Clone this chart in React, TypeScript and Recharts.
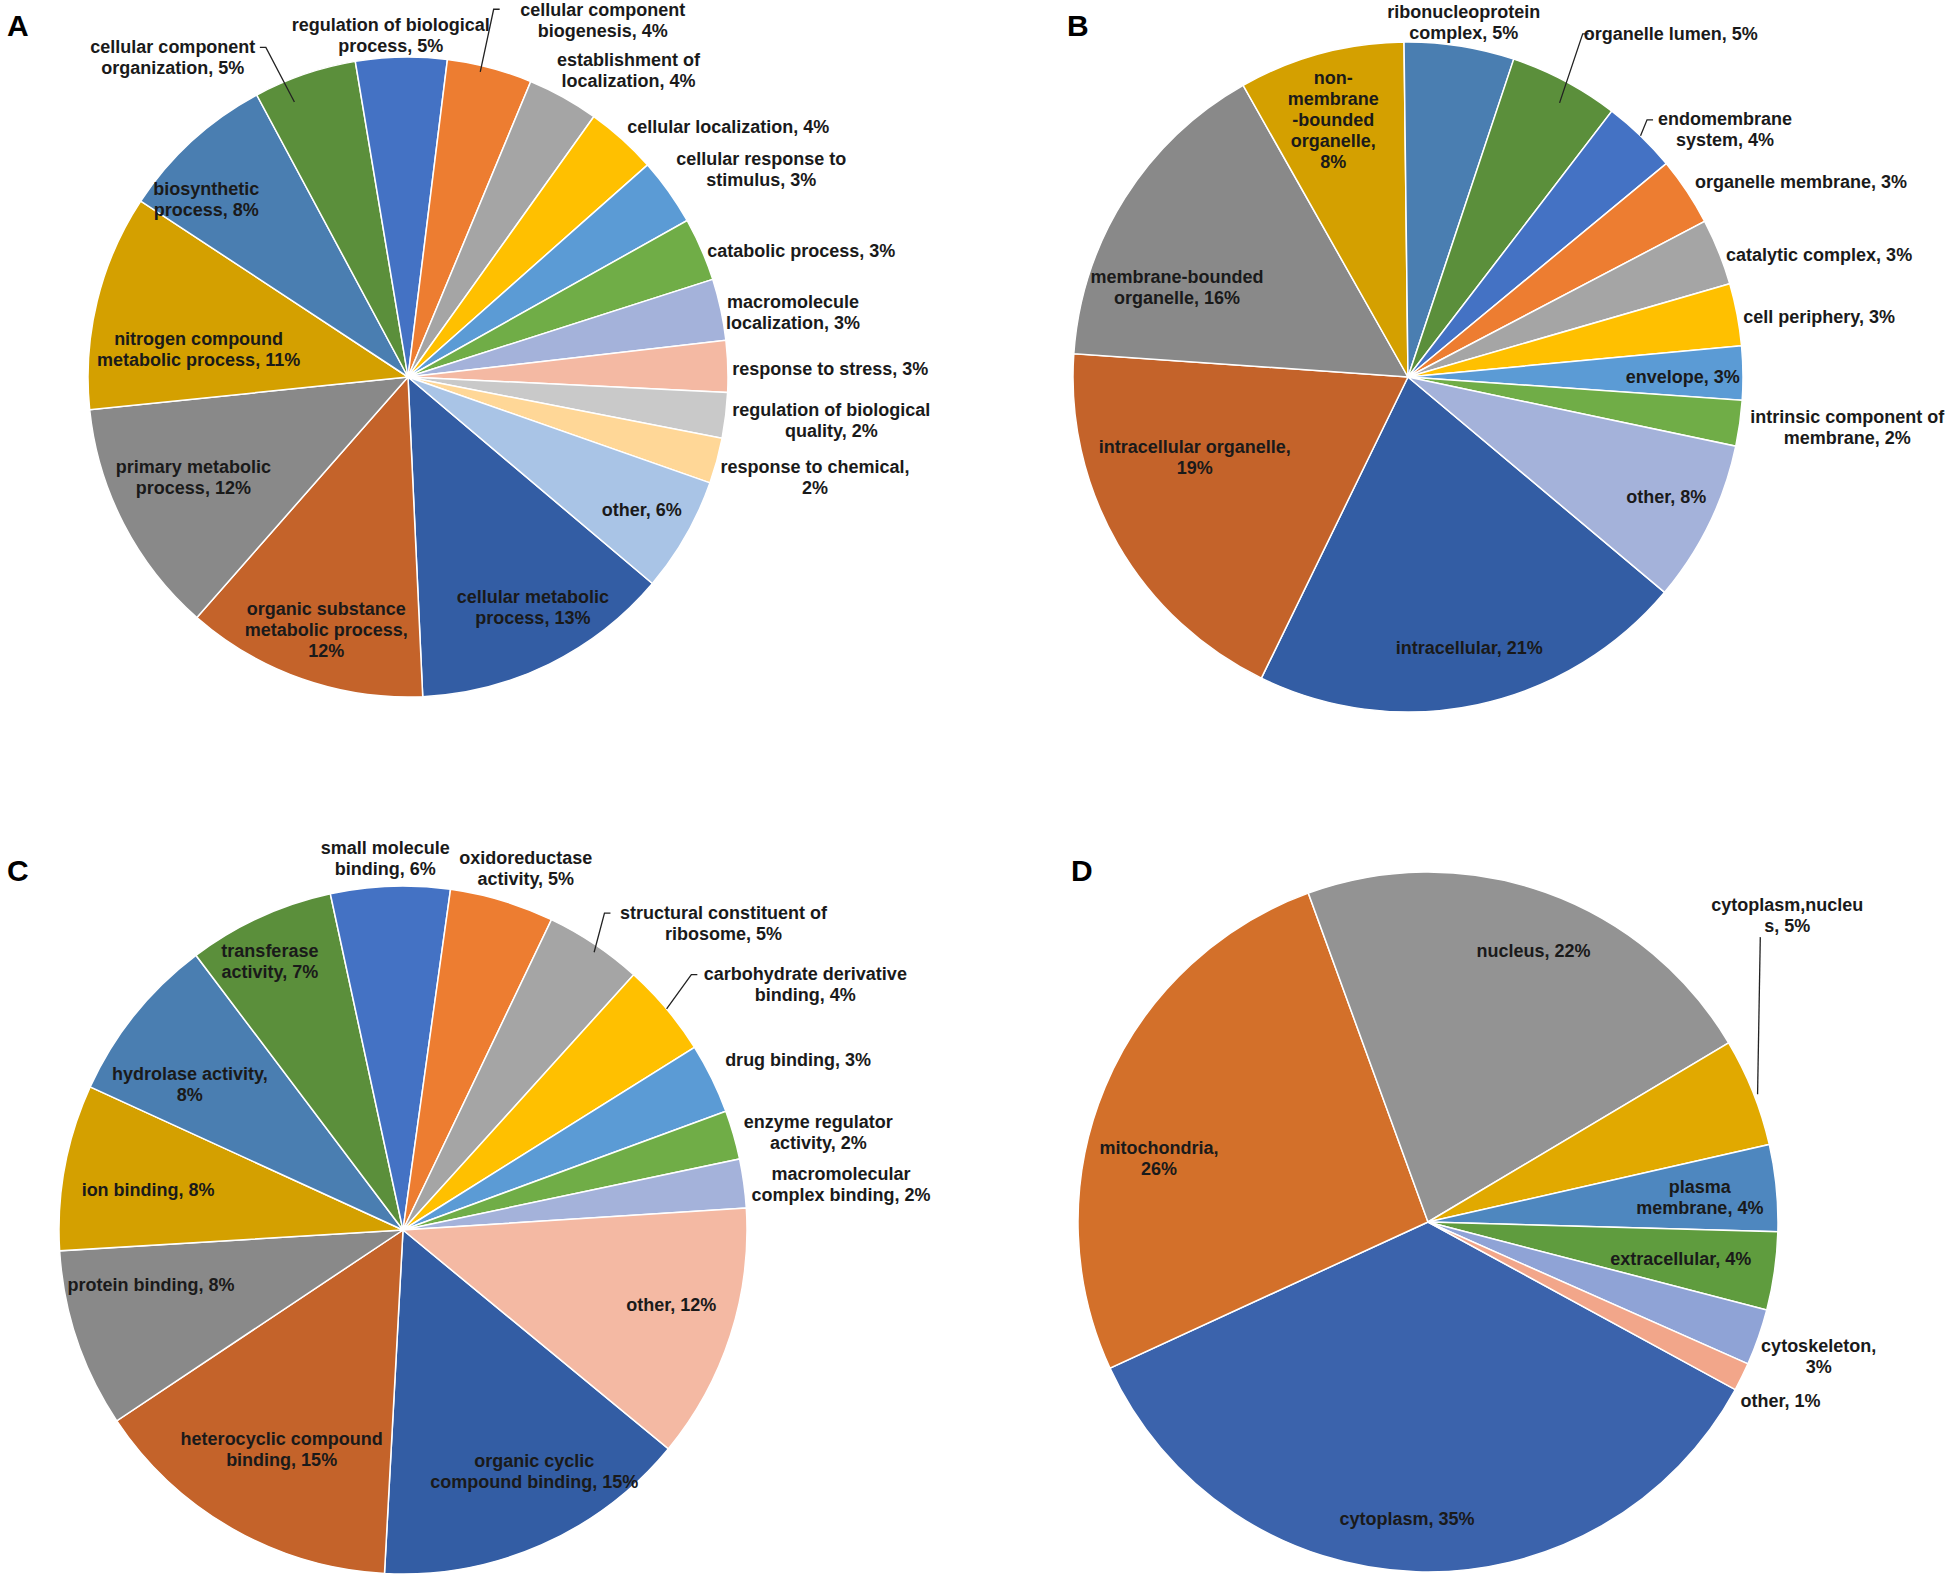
import React from 'react';
import { PieChart, Pie, Cell } from 'recharts';

// ---- A: biological process ----
const bpNames = [
  'cellular metabolic\nprocess', 'organic substance\nmetabolic process', 'primary metabolic\nprocess',
  'nitrogen compound\nmetabolic process', 'biosynthetic\nprocess', 'cellular component\norganization',
  'regulation of biological\nprocess', 'cellular component\nbiogenesis', 'establishment of\nlocalization',
  'cellular localization', 'cellular response to\nstimulus', 'catabolic process',
  'macromolecule\nlocalization', 'response to stress', 'regulation of biological\nquality',
  'response to chemical', 'other',
];
const bpValues = [13.1, 12.2, 11.9, 10.9, 7.9, 5.2, 4.6, 4.3, 3.6, 3.6, 3.4, 3.2, 3.1, 2.6, 2.3, 2.3, 5.8];

// ---- B: cellular component ----
const ccNames = [
  'intracellular', 'intracellular organelle', 'membrane-bounded\norganelle', 'non-\nmembrane\n-bounded\norganelle',
  'ribonucleoprotein\ncomplex', 'organelle lumen', 'endomembrane\nsystem', 'organelle membrane',
  'catalytic complex', 'cell periphery', 'envelope', 'intrinsic component of\nmembrane', 'other',
];
const ccValues = [21.1, 18.9, 15.7, 8.0, 5.3, 5.3, 3.6, 3.3, 3.2, 3.0, 2.6, 2.2, 7.8];

// ---- C: molecular function ----
const mfNames = [
  'organic cyclic\ncompound binding', 'heterocyclic compound\nbinding', 'protein binding', 'ion binding',
  'hydrolase activity', 'transferase\nactivity', 'small molecule\nbinding', 'oxidoreductase\nactivity',
  'structural constituent of\nribosome', 'carbohydrate derivative\nbinding', 'drug binding',
  'enzyme regulator\nactivity', 'macromolecular\ncomplex binding', 'other',
];
const mfValues = [14.9, 14.8, 8.4, 7.8, 7.9, 6.9, 5.6, 4.9, 4.6, 4.4, 3.3, 2.3, 2.3, 12.0];

// ---- D: subcellular location ----
const locNames = [
  'cytoplasm', 'mitochondria', 'nucleus', 'cytoplasm,nucleu\ns', 'plasma\nmembrane',
  'extracellular', 'cytoskeleton', 'other',
];
const locValues = [35.2, 26.3, 22, 5, 4, 3.6, 2.6, 1.3];

const palette = [
  '#335DA4', '#C4632A', '#898989', '#D4A000', '#4A7EB1', '#5B8F3B', '#4472C4', '#ED7D31',
  '#A5A5A5', '#FFC000', '#5B9BD5', '#70AD47', '#A4B2DA', '#F4B9A3', '#C9C9C9', '#FFD797', '#A9C4E6',
];
const ccColors = palette.slice(0, 13);
const mfColors = [...palette.slice(0, 13), '#F4B9A3'];
const locColors = ['#3B63AC', '#D3702A', '#939393', '#E1A900', '#4E87BF', '#5F9C3E', '#8FA3D6', '#F2A68A'];

// label layout: [radius factor, angle offset from slice middle (deg), break before %]
const bpLabels = [
  [0.82, -2.2, 0], [0.83, -1.4, 1], [0.74, 2.3, 0], [0.66, -6.2, 0], [0.84, -6.2, 0], [1.24, -17.5, 0],
  [1.07, -1.7, 0], [1.27, 13.8, 0], [1.18, 6.7, 0], [1.27, 10, 0], [1.28, 5, 0], [1.29, 5.8, 0],
  [1.22, 2.6, 0], [1.32, 0.9, 0], [1.33, -1, 0], [1.31, -1.3, 1], [0.84, -0.2, 0],
];
const ccLabels = [
  [0.83, -0.7, 0], [0.68, 9.4, 1], [0.74, -11, 0], [0.8, -1.1, 1], [1.07, 0.1, 0], [1.29, 9.5, 0],
  [1.2, 8.1, 0], [1.31, 7.2, 0], [1.28, 5.4, 0], [1.24, 2.5, 0], [0.82, 0.7, 0], [1.32, -1.4, 0], [0.85, -1.1, 0],
];
const mfLabels = [
  [0.8, -4.8, 0], [0.73, -0.8, 0], [0.75, 6.2, 0], [0.75, -1.6, 0], [0.75, -4.5, 1], [0.87, -1.8, 0],
  [1.08, -0.6, 0], [1.11, 2, 0], [1.29, 12.4, 0], [1.37, 8.6, 0], [1.25, 2.9, 0], [1.24, 2.9, 0],
  [1.28, 1.9, 0], [0.81, -2.3, 0],
];
const locLabels = [
  [0.85, 2.1, 0], [0.79, -9.3, 1], [0.83, 1.7, 0], [1.35, -18.7, 0], [0.78, 0.4, 0], [0.73, 0.3, 0],
  [1.18, -0.3, 1], [1.13, 0.7, 0],
];

// leader lines: index -> [dx, dy from label centre, tick length, end radius factor, end angle offset]
const bpLeaders: Record<number, number[]> = { 5: [87, -10, 6, 0.93, -3.6], 7: [-103, -11, -6, 0.98, -1.5] };
const ccLeaders: Record<number, number[]> = { 5: [-82, 0, -6, 0.935, 1], 6: [-72, -10, -6, 1.0, 0] };
const mfLeaders: Record<number, number[]> = { 8: [-113, -10, -6, 0.98, 0.7], 9: [-108, -10, -6, 1.0, 0] };
const locLeaders: Record<number, number[]> = { 3: [-27, 22, 0, 1.01, 0.6] };

const RAD = Math.PI / 180;
const LH = 21;
const FONT = "'Liberation Sans', Arial, sans-serif";

const toData = (names: string[], values: number[]) => names.map((name, i) => ({ name, value: values[i] }));

const makeLabel = (layout: number[][], leaders: Record<number, number[]>) => (props: any) => {
  const { cx, cy, midAngle, outerRadius, index, percent, name } = props;
  const [rf, dA, brk] = layout[index];
  const theta = (90 - midAngle + dA) * RAD;
  const lx = cx + rf * outerRadius * Math.sin(theta);
  const ly = cy - rf * outerRadius * Math.cos(theta);
  const text = `${name},${brk ? '\n' : ' '}${Math.round(percent * 100)}%`;
  const lines = text.split('\n');
  const lead = leaders[index];
  let leader = null;
  if (lead) {
    const t = (90 - midAngle + lead[4]) * RAD;
    const ex = cx + outerRadius * lead[3] * Math.sin(t);
    const ey = cy - outerRadius * lead[3] * Math.cos(t);
    const sx = lx + lead[0];
    const sy = ly + lead[1];
    leader = (
      <polyline
        points={`${sx},${sy} ${sx + lead[2]},${sy} ${ex},${ey}`}
        fill="none"
        stroke="#222"
        strokeWidth={1.3}
      />
    );
  }
  return (
    <g>
      {leader}
      <text x={lx} y={ly} textAnchor="middle" fontSize={18} fontWeight={700} fontFamily={FONT} fill="#1a1a1a">
        {lines.map((ln, i) => (
          <tspan key={i} x={lx} dy={i === 0 ? -((lines.length - 1) / 2) * LH + 6 : LH}>
            {ln}
          </tspan>
        ))}
      </text>
    </g>
  );
};

const pies = [
  { data: toData(bpNames, bpValues), colors: palette, cx: 408, cy: 377, r: 320, start: 130.2, layout: bpLabels, leaders: bpLeaders },
  { data: toData(ccNames, ccValues), colors: ccColors, cx: 1408, cy: 377, r: 335, start: 130, layout: ccLabels, leaders: ccLeaders },
  { data: toData(mfNames, mfValues), colors: mfColors, cx: 403, cy: 1230, r: 344, start: 129.5, layout: mfLabels, leaders: mfLeaders },
  { data: toData(locNames, locValues), colors: locColors, cx: 1428, cy: 1222, r: 350, start: 118.6, layout: locLabels, leaders: locLeaders },
];

const panelLetters = [
  { t: 'A', x: 7, y: 36 },
  { t: 'B', x: 1067, y: 36 },
  { t: 'C', x: 7, y: 881 },
  { t: 'D', x: 1071, y: 881 },
];

export default function App() {
  return (
    <div style={{ position: 'absolute', left: 0, top: 0, width: 1950, height: 1576, background: '#fff' }}>
      <PieChart width={1950} height={1576} margin={{ top: 0, right: 0, bottom: 0, left: 0 }}>
        {pies.map((p, k) => (
          <Pie
            key={k}
            data={p.data}
            dataKey="value"
            nameKey="name"
            cx={p.cx}
            cy={p.cy}
            outerRadius={p.r}
            startAngle={90 - p.start}
            endAngle={90 - p.start - 360}
            stroke="#fff"
            strokeWidth={1.5}
            labelLine={false}
            label={makeLabel(p.layout, p.leaders)}
            isAnimationActive={false}
          >
            {p.data.map((_, i) => (
              <Cell key={i} fill={p.colors[i]} />
            ))}
          </Pie>
        ))}
      </PieChart>
      <svg width={1950} height={1576} style={{ position: 'absolute', left: 0, top: 0, pointerEvents: 'none' }}>
        {panelLetters.map((l) => (
          <text key={l.t} x={l.x} y={l.y} fontSize={30} fontWeight={700} fontFamily={FONT} fill="#000">
            {l.t}
          </text>
        ))}
      </svg>
    </div>
  );
}
